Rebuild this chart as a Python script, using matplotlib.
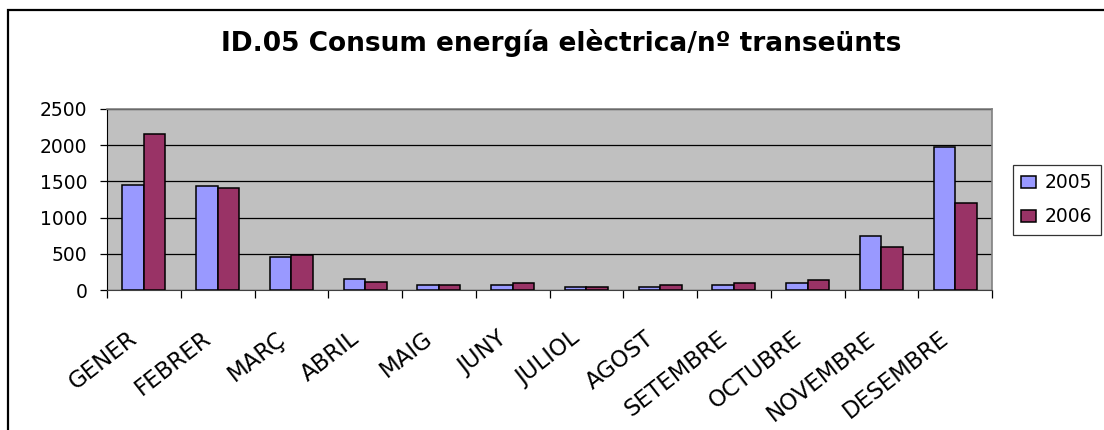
import numpy as np
import matplotlib.pyplot as plt
from matplotlib.patches import Rectangle
from matplotlib.transforms import ScaledTranslation, blended_transform_factory

months = ["GENER", "FEBRER", "MARÇ", "ABRIL", "MAIG", "JUNY", "JULIOL",
          "AGOST", "SETEMBRE", "OCTUBRE", "NOVEMBRE", "DESEMBRE"]
vals_2005 = [1450, 1430, 450, 155, 70, 70, 45, 45, 70, 90, 750, 1980]
vals_2006 = [2155, 1405, 480, 110, 65, 95, 45, 70, 95, 140, 595, 1205]
years = ["2005", "2006"]
colors = ["#9999FF", "#993366"]

plt.rcParams["font.family"] = ["DejaVu Sans"]

W, H = 1104, 430
fig = plt.figure(figsize=(W / 100, H / 100), dpi=100)
fig.patch.set_facecolor("white")

# outer chart frame, cut off at right and bottom
fig.patches.append(Rectangle((8 / W, -0.1), 1.2, 1.1 - 10 / H,
                             transform=fig.transFigure, fill=False,
                             edgecolor="black", linewidth=1.6))

ax = fig.add_axes([107 / W, 1 - 290 / H, 885 / W, 181 / H])
ax.set_facecolor("#C0C0C0")

x = np.arange(len(months))
bw = 0.29
ax.bar(x - bw / 2, vals_2005, bw, color=colors[0], edgecolor="black",
       linewidth=1.1, label=years[0], zorder=3)
ax.bar(x + bw / 2, vals_2006, bw, color=colors[1], edgecolor="black",
       linewidth=1.1, label=years[1], zorder=3)

ax.set_xlim(-0.5, len(months) - 0.5)
ax.set_ylim(0, 2500)
ax.set_yticks([0, 500, 1000, 1500, 2000, 2500])
ax.yaxis.grid(True, color="black", linewidth=0.9, zorder=1)
ax.set_axisbelow(True)

for s in ["top", "right"]:
    ax.spines[s].set_color("#808080")
    ax.spines[s].set_linewidth(1.2)
ax.spines["left"].set_color("black")
ax.spines["bottom"].set_color("#404040")

ax.tick_params(axis="y", length=5, width=0.9, labelsize=13.5, pad=9)

# ticks at category boundaries
ax.set_xticks(np.arange(len(months) + 1) - 0.5)
ax.set_xticklabels([])
ax.tick_params(axis="x", length=6, width=0.9)

# month labels, slanted
trans = blended_transform_factory(ax.transData, ax.transAxes)
off = ScaledTranslation(-16 / 100, -37 / 100, fig.dpi_scale_trans)
for xi, m in zip(x, months):
    ax.text(xi, 0, m, transform=trans + off, rotation=38, ha="right",
            va="top", rotation_mode="anchor", fontsize=16.5, clip_on=False)

fig.text(561 / W, 1 - 51 / H, "ID.05 Consum energía elèctrica/nº transeünts",
         ha="center", va="baseline", fontsize=19, fontweight="bold")

leg = fig.legend(loc="upper left", bbox_to_anchor=(1013 / W, 1 - 165 / H),
                 fontsize=13.5, frameon=True, fancybox=False, borderpad=0.45,
                 handlelength=0.75, handleheight=0.6, handletextpad=0.5,
                 labelspacing=0.8, borderaxespad=0)
leg.get_frame().set_edgecolor("black")
leg.get_frame().set_linewidth(0.9)

fig.savefig("out.png", dpi=100)
